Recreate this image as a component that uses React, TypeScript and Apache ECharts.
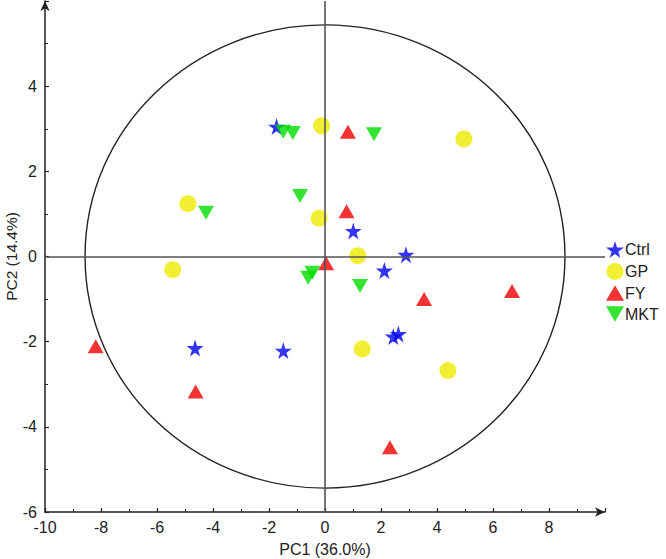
import React, { useEffect, useRef } from "react";
import * as echarts from "echarts";

const xTicks = [-10, -8, -6, -4, -2, 0, 2, 4, 6, 8];
const yTicks = [-6, -4, -2, 0, 2, 4];

const ctrl = [
  [-1.73, 3.05], [1.01, 0.6], [2.89, 0.04], [2.12, -0.33],
  [2.44, -1.88], [2.62, -1.82], [-4.64, -2.15], [-1.49, -2.21],
];
const gp = [
  [-0.12, 3.07], [4.96, 2.76], [-4.9, 1.24], [-0.21, 0.9],
  [-5.44, -0.31], [1.17, 0.02], [1.33, -2.17], [4.39, -2.68],
];
const fy = [
  [0.82, 2.93], [0.77, 1.06], [0.04, -0.16], [3.54, -1.0],
  [6.68, -0.81], [-8.19, -2.11], [-4.62, -3.17], [2.32, -4.48],
];
const mkt = [
  [-1.49, 2.93], [-1.15, 2.9], [1.75, 2.87], [-0.89, 1.42],
  [-4.25, 1.03], [-0.45, -0.38], [-0.6, -0.5], [1.25, -0.69],
];
const ellipseAxes = [[0, 0, 8.57, 5.44]];

const STAR = "path://M50,0 L61,35 L98,35 L68,57 L79,91 L50,70 L21,91 L32,57 L2,35 L39,35 Z";
const DOWN = "path://M0,0 L100,0 L50,87 Z";
const UP = "path://M50,0 L100,87 L0,87 Z";

export default function App() {
  const ref = useRef<HTMLDivElement>(null);
  useEffect(() => {
    document.body.style.margin = "0";
    const chart = echarts.init(ref.current!, null, { renderer: "svg" });
    const font = "'Liberation Sans', Arial, sans-serif";
    const axisCommon = {
      axisLine: {
        show: true,
        onZero: false,
        symbol: ["none", "arrow"],
        symbolSize: [7, 10],
        lineStyle: { color: "#222", width: 1.5 },
      },
      axisTick: { show: true, inside: true, length: 4, lineStyle: { color: "#222", width: 1.2 } },
      minorTick: { show: true, splitNumber: 2, length: 3, lineStyle: { color: "#222", width: 1 } },
      splitLine: { show: false },
      nameLocation: "middle" as const,
      nameMoveOverlap: false,
      nameTextStyle: { color: "#222", fontSize: 16, fontFamily: font },
    };
    const fmt = (ticks: number[]) => (v: number) => (ticks.indexOf(v) >= 0 ? String(v) : "");
    chart.setOption({
      animation: false,
      backgroundColor: "#fff",
      grid: { left: 45, right: 61, top: 1, bottom: 47, containLabel: false, outerBoundsMode: "none" },
      legend: {
        orient: "vertical",
        left: 601,
        top: 236,
        itemWidth: 18,
        itemHeight: 17,
        itemGap: 5,
        textStyle: { color: "#222", fontSize: 16, fontFamily: font, padding: [0, 0, 0, -4] },
        data: ["Ctrl", "GP", "FY", "MKT"],
      },
      xAxis: {
        ...axisCommon,
        type: "value",
        min: -10,
        max: 10,
        interval: 2,
        name: "PC1 (36.0%)",
        nameGap: 29,
        axisLabel: { color: "#222", fontSize: 16, fontFamily: font, margin: 7, formatter: fmt(xTicks) },
      },
      yAxis: {
        ...axisCommon,
        type: "value",
        min: -6,
        max: 6,
        interval: 2,
        name: "PC2 (14.4%)",
        nameGap: 26,
        nameTextStyle: { color: "#222", fontSize: 15.5, fontFamily: font },
        axisLabel: { color: "#222", fontSize: 16, fontFamily: font, margin: 8, formatter: fmt(yTicks) },
      },
      series: [
        {
          type: "custom",
          silent: true,
          data: ellipseAxes,
          renderItem: (params: any, api: any) => {
            const c = api.coord([api.value(0), api.value(1)]);
            const s = api.size([api.value(2), api.value(3)]);
            return {
              type: "ellipse",
              shape: { cx: c[0], cy: c[1], rx: s[0], ry: s[1] },
              style: { fill: "none", stroke: "#222", lineWidth: 1.4 },
            };
          },
          markLine: {
            silent: true,
            symbol: "none",
            label: { show: false },
            lineStyle: { color: "#555", width: 1.6, type: "solid" },
            data: [{ xAxis: 0 }, { yAxis: 0 }],
          },
          z: 1,
        },
        {
          name: "Ctrl",
          type: "scatter",
          data: ctrl,
          symbol: STAR,
          symbolSize: 17,
          itemStyle: { color: "#0000f0" },
          z: 3,
        },
        {
          name: "GP",
          type: "scatter",
          data: gp,
          symbol: "circle",
          symbolSize: 17,
          itemStyle: { color: "#eeea00" },
          z: 3,
        },
        {
          name: "FY",
          type: "scatter",
          data: fy,
          symbol: UP,
          symbolSize: [16, 14],
          itemStyle: { color: "#ee0000" },
          z: 3,
        },
        {
          name: "MKT",
          type: "scatter",
          data: mkt,
          symbol: DOWN,
          symbolSize: [16, 14],
          itemStyle: { color: "#00dd00" },
          z: 3,
        },
      ],
    });
    return () => chart.dispose();
  }, []);
  return <div ref={ref} style={{ width: 666, height: 559 }} />;
}
